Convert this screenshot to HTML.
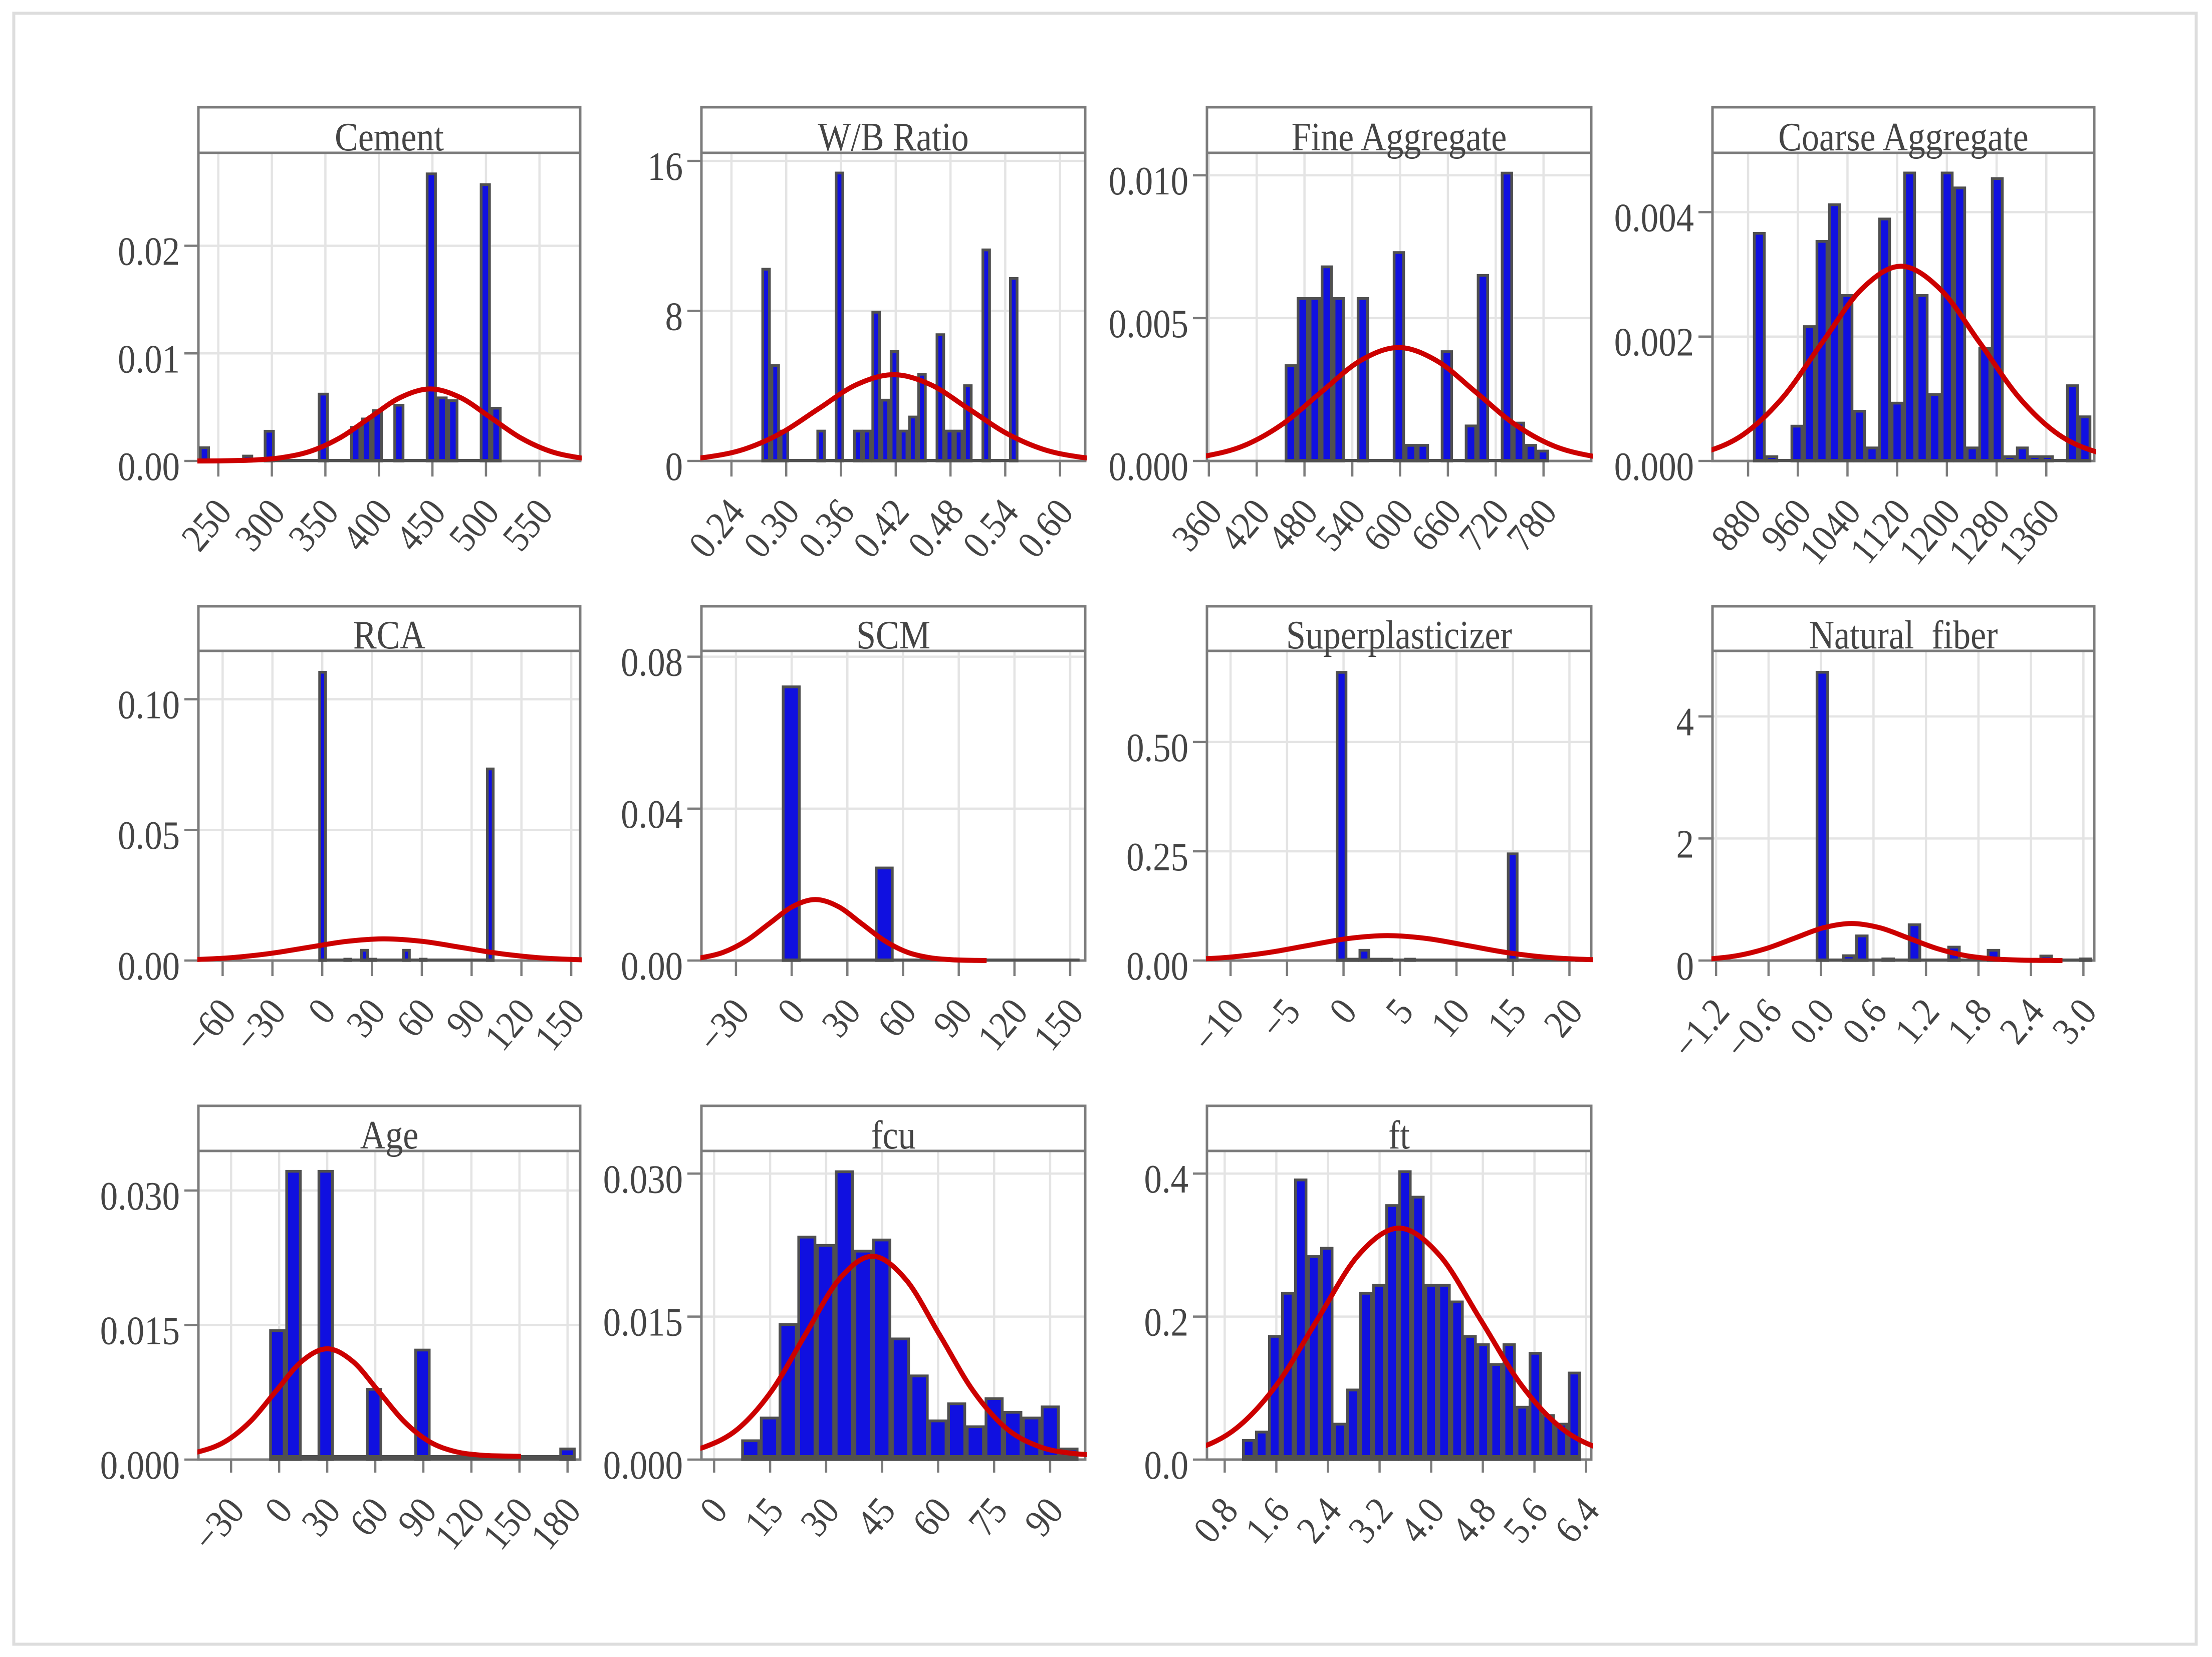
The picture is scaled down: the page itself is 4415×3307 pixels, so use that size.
<!DOCTYPE html>
<html lang="en">
<head>
<meta charset="utf-8">
<title>Histograms with normal curves</title>
<style>
html,body{margin:0;padding:0;background:#fff;}
svg{display:block;}
text{font-family:"Liberation Serif","DejaVu Serif",serif;fill:#444444;white-space:pre;}
</style>
</head>
<body>
<svg id="chart" xmlns="http://www.w3.org/2000/svg" width="4415" height="3307" viewBox="0 0 4415 3307">
<rect x="0" y="0" width="4415" height="3307" fill="#fff"/>
<rect x="27.5" y="26.5" width="4356" height="3255" fill="none" stroke="#dddddd" stroke-width="6"/>
</svg>
<script>
// ---- Cement ----
const cementXTicks = ["250","300","350","400","450","500","550"];
const cementYTicks = ["0.00","0.01","0.02"];
const cementBins = [0.00135,0,0,0,0.00057,0,0.00288,0,0,0,0,0.00633,0,0,0.00324,0.00402,0.0048,0,0.0053,0,0,0.0268,0.00598,0.00573,0,0,0.0258,0.00502];
const cementCurveX = [224,252,280,308,336,364,392,420,448,476,504,532,560,588,616];
const cementCurveY = [0.000002,0.000015,0.000074,0.000294,0.000905,0.00217,0.00406,0.0059,0.00669,0.0059,0.00406,0.00217,0.000905,0.000294,0.000074];
// ---- W/B Ratio ----
const wbXTicks = ["0.24","0.30","0.36","0.42","0.48","0.54","0.60"];
const wbYTicks = ["0","8","16"];
const wbBins = [10.29,5.15,1.66,0,0,0,1.66,0,15.42,0,1.66,1.66,8.0,3.31,5.9,1.66,2.41,4.69,0,6.8,1.66,1.66,4.08,0,11.32,0,0,9.8];
const wbCurveX = [0.1716,0.2126,0.2536,0.2946,0.3356,0.3766,0.4176,0.4586,0.4996,0.5406,0.5816,0.6226,0.6636];
const wbCurveY = [0.051,0.202,0.622,1.494,2.79,4.06,4.6,4.06,2.79,1.494,0.622,0.202,0.051];
// ---- Fine Aggregate ----
const fineXTicks = ["360","420","480","540","600","660","720","780"];
const fineYTicks = ["0.000","0.005","0.010"];
const fineBins = [0.00338,0.00573,0.00573,0.00684,0.00573,0,0.00573,0,0,0.00734,0.00059,0.00059,0,0.00387,0,0.00127,0.00654,0,0.01012,0.00137,0.00059,0.00039];
const fineCurveX = [307,355.5,404,452.5,501,549.5,598,646.5,695,743.5,792,840.5,889];
const fineCurveY = [0.000044,0.000174,0.000537,0.00129,0.00241,0.0035,0.00397,0.0035,0.00241,0.00129,0.000537,0.000174,0.000044];
// ---- Coarse Aggregate ----
const coarseXTicks = ["880","960","1040","1120","1200","1280","1360"];
const coarseYTicks = ["0.000","0.002","0.004"];
const coarseBins = [0.00368,0.00009,0,0.00058,0.00218,0.00355,0.00414,0.00268,0.00082,0.00023,0.00391,0.00095,0.00465,0.00268,0.00109,0.00465,0.00441,0.00023,0.00183,0.00456,0.00009,0.00023,0.00009,0.00009,0,0.00123,0.00073];
const coarseCurveX = [745,808.5,872,935.5,999,1062.5,1126,1189.5,1253,1316.5,1380,1443.5,1507];
const coarseCurveY = [0.000035,0.000137,0.000423,0.001016,0.0019,0.00276,0.00313,0.00276,0.0019,0.001016,0.000423,0.000137,0.000035];
// ---- RCA ----
const rcaXTicks = ["−60","−30","0","30","60","90","120","150"];
const rcaYTicks = ["0.00","0.05","0.10"];
const rcaBins = [0.1108,0,0,0.001,0,0.0044,0.001,0,0,0,0.0044,0,0.001,0,0,0,0,0,0,0,0.0738];
const rcaCurveX = [-100.4,-77.4,-54.4,-31.4,-8.4,14.6,37.6,60.6,83.6,106.6,129.6,152.6,175.6];
const rcaCurveY = [0.00009,0.00036,0.00112,0.0027,0.00503,0.00732,0.0083,0.00732,0.00503,0.0027,0.00112,0.00036,0.00009];
// ---- SCM ----
const scmXTicks = ["−30","0","30","60","90","120","150"];
const scmYTicks = ["0.00","0.04","0.08"];
const scmBins = [0.0724,0,0,0,0,0.0247,0,0,0,0,0,0,0,0,0,0];
const scmCurveX = [-61.6,-49.2,-36.8,-24.4,-12,0.4,12.8,25.2,37.6,50,62.4,74.8,87.2,99.6,105];
const scmCurveY = [0.00018,0.00071,0.00217,0.00522,0.00975,0.01418,0.01607,0.01418,0.00975,0.00522,0.00217,0.00071,0.00018,0.00004,0];
// ---- Superplasticizer ----
const spXTicks = ["−10","−5","0","5","10","15","20"];
const spYTicks = ["0.00","0.25","0.50"];
const spBins = [0.6623,0.006,0.0263,0.006,0.006,0,0.006,0,0,0,0,0,0,0,0,0.247,0,0,0,0,0,0.006];
const spCurveX = [-17.1,-13.6,-10.1,-6.6,-3.1,0.4,3.9,7.4,10.9,14.4,17.9,21.4,24.9];
const spCurveY = [0.0006,0.0025,0.0077,0.0185,0.0346,0.0503,0.057,0.0503,0.0346,0.0185,0.0077,0.0025,0.0006];
// ---- Natural fiber ----
const fiberXTicks = ["−1.2","−0.6","0.0","0.6","1.2","1.8","2.4","3.0"];
const fiberYTicks = ["0","2","4"];
const fiberBins = [4.743,0,0.0995,0.424,0,0.047,0,0.607,0,0,0.24,0,0,0.188,0,0,0,0.094,0,0,0.047];
const fiberCurveX = [-1.6,-1.275,-0.95,-0.625,-0.3,0.025,0.35,0.675,1.0,1.325,1.65,1.975,2.3,2.625,2.76];
const fiberCurveY = [0.0067,0.0266,0.082,0.197,0.368,0.536,0.607,0.536,0.368,0.197,0.082,0.0266,0.0067,0.0013,0];
// ---- Age ----
const ageXTicks = ["−30","0","30","60","90","120","150","180"];
const ageYTicks = ["0.000","0.015","0.030"];
const ageBins = [0.01452,0.03228,0,0.03228,0,0,0.00797,0,0,0.01235,0,0,0,0,0,0,0,0,0.00132];
const ageCurveX = [-66,-50,-34,-18,-2,14,30,46,62,78,94,110,126,142,151];
const ageCurveY = [0.00049,0.00089,0.00198,0.00425,0.00763,0.01094,0.01235,0.01094,0.00763,0.00425,0.00198,0.00089,0.00049,0.00039,0.00036];
// ---- fcu ----
const fcuXTicks = ["0","15","30","45","60","75","90"];
const fcuYTicks = ["0.000","0.015","0.030"];
const fcuBins = [0.00211,0.00449,0.0143,0.02347,0.0226,0.03033,0.022,0.02317,0.01279,0.00891,0.00419,0.00599,0.00358,0.00653,0.00509,0.00449,0.00566,0.00124];
const fcuCurveX = [-11.6,-2.6,6.4,15.4,24.4,33.4,42.4,51.4,60.4,69.4,78.4,87.4,96.4,105.4];
const fcuCurveY = [0.00063,0.00132,0.00323,0.0072,0.01309,0.01887,0.02133,0.01887,0.01309,0.0072,0.00323,0.00132,0.00063,0.00045];
// ---- ft ----
const ftXTicks = ["0.8","1.6","2.4","3.2","4.0","4.8","5.6","6.4"];
const ftYTicks = ["0.0","0.2","0.4"];
const ftBins = [0.0286,0.0402,0.1741,0.2344,0.3929,0.2857,0.2973,0.0513,0.0991,0.2344,0.2455,0.3571,0.4045,0.3688,0.2455,0.2455,0.2223,0.1741,0.1625,0.1348,0.1625,0.075,0.1504,0.0634,0.0513,0.1228];
const ftCurveX = [-0.28,0.35,0.98,1.61,2.24,2.87,3.5,4.13,4.76,5.39,6.02,6.65,7.28];
const ftCurveY = [0.0036,0.0142,0.0438,0.1051,0.1963,0.2857,0.3237,0.2857,0.1963,0.1051,0.0438,0.0142,0.0036];

const panels = [
  {key:'cement',title:'Cement',col:0,row:0,xMin:231.4,xMax:588,yMax:0.02864,binStart:232,binWidth:10.09,xTicks:cementXTicks,yTicks:cementYTicks,bins:cementBins,cx:cementCurveX,cy:cementCurveY},
  {key:'wb-ratio',title:'W/B Ratio',col:1,row:0,xMin:0.2071,xMax:0.6276,yMax:16.43,binStart:0.2729,binWidth:0.01005,xTicks:wbXTicks,yTicks:wbYTicks,bins:wbBins,cx:wbCurveX,cy:wbCurveY},
  {key:'fine-aggregate',title:'Fine Aggregate',col:2,row:0,xMin:357.6,xMax:839.9,yMax:0.010786,binStart:455.3,binWidth:15.07,xTicks:fineXTicks,yTicks:fineYTicks,bins:fineBins,cx:fineCurveX,cy:fineCurveY},
  {key:'coarse-aggregate',title:'Coarse Aggregate',col:3,row:0,xMin:822.7,xMax:1437.2,yMax:0.004954,binStart:888,binWidth:20.16,xTicks:coarseXTicks,yTicks:coarseYTicks,bins:coarseBins,cx:coarseCurveX,cy:coarseCurveY},
  {key:'rca',title:'RCA',col:0,row:1,xMin:-74.6,xMax:155.4,yMax:0.1185,binStart:-2.3,binWidth:5.05,xTicks:rcaXTicks,yTicks:rcaYTicks,bins:rcaBins,cx:rcaCurveX,cy:rcaCurveY},
  {key:'scm',title:'SCM',col:1,row:1,xMin:-48.6,xMax:158.1,yMax:0.08154,binStart:-5.25,binWidth:10.02,xTicks:scmXTicks,yTicks:scmYTicks,bins:scmBins,cx:scmCurveX,cy:scmCurveY},
  {key:'superplasticizer',title:'Superplasticizer',col:2,row:1,xMin:-12.09,xMax:21.93,yMax:0.7086,binStart:-0.68,binWidth:1.01,xTicks:spXTicks,yTicks:spYTicks,bins:spBins,cx:spCurveX,cy:spCurveY},
  {key:'natural-fiber',title:'Natural  fiber',col:3,row:1,xMin:-1.241,xMax:3.124,yMax:5.073,binStart:-0.06,binWidth:0.1505,xTicks:fiberXTicks,yTicks:fiberYTicks,bins:fiberBins,cx:fiberCurveX,cy:fiberCurveY},
  {key:'age',title:'Age',col:0,row:2,xMin:-50.4,xMax:187.9,yMax:0.03441,binStart:-6.14,binWidth:10.06,xTicks:ageXTicks,yTicks:ageYTicks,bins:ageBins,cx:ageCurveX,cy:ageCurveY},
  {key:'fcu',title:'fcu',col:1,row:2,xMin:-3.4,xMax:99.4,yMax:0.03238,binStart:7.28,binWidth:5.016,xTicks:fcuXTicks,yTicks:fcuYTicks,bins:fcuBins,cx:fcuCurveX,cy:fcuCurveY},
  {key:'ft',title:'ft',col:2,row:2,xMin:0.525,xMax:6.48,yMax:0.4317,binStart:1.07,binWidth:0.2019,xTicks:ftXTicks,yTicks:ftYTicks,bins:ftBins,cx:ftCurveX,cy:ftCurveY}
];

const colLeft = [396,1400,2409,3418];
const colRight = [1158,2166,3176,4180];
const rowTop = [214,1210,2207];
const rowStrip = [305,1299,2297];
const rowBase = [920,1917,2913];
const rowTick = [31,31,26];
const rowBand = [4,4,9];

const svg = document.getElementById('chart');
const NS = 'http://www.w3.org/2000/svg';
function make(parent, tag, attrs){
  const el = document.createElementNS(NS, tag);
  for (const k in attrs) el.setAttribute(k, attrs[k]);
  parent.appendChild(el);
  return el;
}
function num(label){ return parseFloat(label.replace('−','-')); }
function smoothPath(pts){
  let d = 'M' + pts[0][0].toFixed(1) + ' ' + pts[0][1].toFixed(1);
  for (let i = 0; i < pts.length - 1; i++){
    const p0 = pts[Math.max(i-1,0)], p1 = pts[i], p2 = pts[i+1], p3 = pts[Math.min(i+2,pts.length-1)];
    const c1x = p1[0] + (p2[0]-p0[0])/6, c1y = p1[1] + (p2[1]-p0[1])/6;
    const c2x = p2[0] - (p3[0]-p1[0])/6, c2y = p2[1] - (p3[1]-p1[1])/6;
    d += 'C' + c1x.toFixed(1) + ' ' + c1y.toFixed(1) + ' ' + c2x.toFixed(1) + ' ' + c2y.toFixed(1) + ' ' + p2[0].toFixed(1) + ' ' + p2[1].toFixed(1);
  }
  return d;
}

panels.forEach(function(p){
  const L = colLeft[p.col], R = colRight[p.col];
  const T = rowTop[p.row], S = rowStrip[p.row], B = rowBase[p.row];
  const x = function(v){ return L + (v - p.xMin) / (p.xMax - p.xMin) * (R - L); };
  const y = function(v){ return B - v / p.yMax * (B - S); };

  const g = make(svg, 'g', {});
  
  

  // gridlines
  p.xTicks.forEach(function(t){
    const gl = make(g, 'line', {x1:x(num(t)),x2:x(num(t)),y1:S,y2:B,stroke:'#e4e4e4','stroke-width':4.5});
    
    
  });
  p.yTicks.forEach(function(t){
    const gl = make(g, 'line', {x1:L,x2:R,y1:y(num(t)),y2:y(num(t)),stroke:'#e4e4e4','stroke-width':4.5});
    
    
  });

  // frame and strip
  const frame = make(g, 'rect', {x:L,y:T,width:R-L,height:B-T,fill:'none',stroke:'#7c7c7c','stroke-width':5});
  
  
  const strip = make(g, 'line', {x1:L,x2:R,y1:S,y2:S,stroke:'#7c7c7c','stroke-width':5});
  
  

  // x ticks and labels
  p.xTicks.forEach(function(t){
    const px = x(num(t));
    const tk = make(g, 'line', {x1:px,x2:px,y1:B,y2:B+rowTick[p.row],stroke:'#7c7c7c','stroke-width':4.5});
    
    
    const lb = make(g, 'text', {'font-size':78,'text-anchor':'end',transform:'translate(' + (px+30) + ',' + (B+104) + ') rotate(-50) scale(.9,1)'});
    lb.textContent = t;
    
    
  });

  // y ticks and labels
  p.yTicks.forEach(function(t){
    const py = y(num(t));
    const tk = make(g, 'line', {x1:L-28,x2:L,y1:py,y2:py,stroke:'#7c7c7c','stroke-width':4.5});
    
    
    const lb = make(g, 'text', {'font-size':80,'text-anchor':'end',transform:'translate(' + (L-37) + ',' + (py+38) + ') scale(.885,1)'});
    lb.textContent = t;
    
    
  });

  // histogram bars
  p.bins.forEach(function(v, i){
    if (v <= 0) return;
    const x0 = x(p.binStart + i * p.binWidth), x1 = x(p.binStart + (i + 1) * p.binWidth);
    const bar = make(g, 'rect', {x:x0+2.5,y:y(v)+2.5,width:Math.max(x1-x0-5,1),height:Math.max(B-y(v)-2.5,1),fill:'#1010e0',stroke:'#505050','stroke-width':5.5});
    
    
  });
  const bx0 = x(p.binStart), bx1 = x(p.binStart + p.bins.length * p.binWidth);
  const band = make(g, 'rect', {x:bx0,y:B-rowBand[p.row],width:bx1-bx0,height:rowBand[p.row]+2,fill:'#505050'});
  
  

  // title
  const title = make(g, 'text', {'font-size':80,'text-anchor':'middle',transform:'translate(' + ((L+R)/2) + ',' + (S-5) + ') scale(.875,1)'});
  title.textContent = p.title;
  
  

  // normal curve
  const clip = make(g, 'clipPath', {id:'clip-' + p.key});
  make(clip, 'rect', {x:L-2,y:S,width:R-L+5,height:B-S+5});
  const pts = p.cx.map(function(v, i){ return [x(v), y(p.cy[i])]; });
  const curve = make(g, 'path', {d:smoothPath(pts),fill:'none',stroke:'#cc0000','stroke-width':10,'clip-path':'url(#clip-' + p.key + ')'});
  
  
});
</script>
</body>
</html>
